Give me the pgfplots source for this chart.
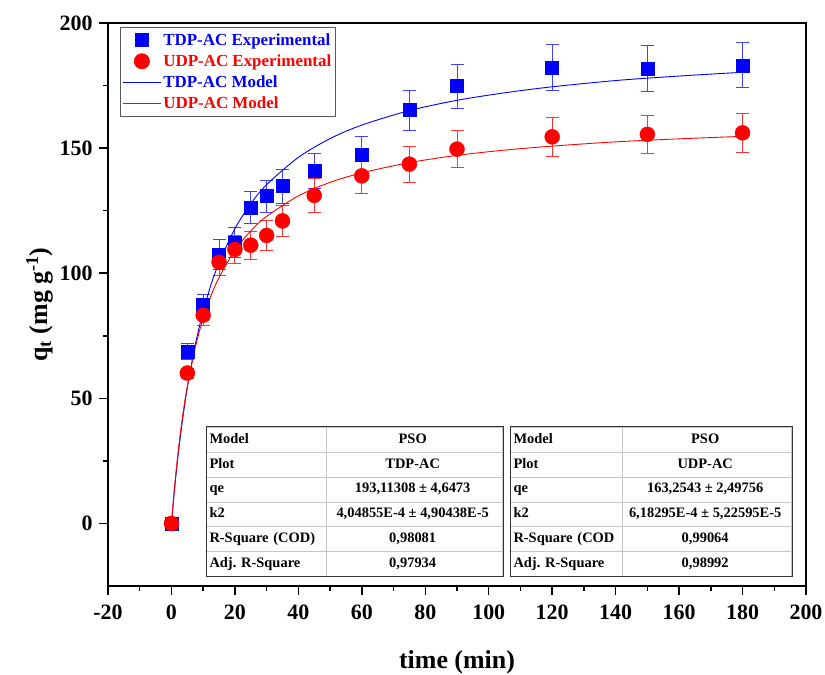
\documentclass[border=0pt]{standalone}
\usepackage{pgfplots}
\pgfplotsset{compat=1.18}
\usepackage{fontspec}
\setmainfont{Liberation Serif}
\usetikzlibrary{matrix}

% tables of the fit results
\tikzset{
  fitcell/.style={draw=gray!45, line width=0.6bp, inner ysep=0pt,
    minimum height=24.8bp, text height=10bp, text depth=3bp,
    font=\bfseries\fontsize{14.5}{15}\selectfont},
  fittable/.style={matrix of nodes, ampersand replacement=\&,
    anchor=north west, fill=white, inner sep=0pt,
    row sep=-0.6bp, column sep=-0.6bp, nodes={fitcell}}
}
\pgfplotsset{
  linelegend/.style={legend image code/.code={\draw[##1] (0bp,0bp) -- (38bp,0bp);}},
  marklegend/.style={legend image code/.code={%
    \path (0bp,0bp) (38bp,0bp);
    \path[##1] plot[only marks] coordinates {(19bp,0bp)};}}
}

\begin{document}
\begin{tikzpicture}
\begin{axis}[
  scale only axis, width=698bp, height=563bp,
  xmin=-20, xmax=200, ymin=-25, ymax=200,
  xtick={-20,0,...,200}, ytick={0,50,...,200},
  minor x tick num=1, minor y tick num=1,
  xtick pos=bottom, ytick pos=left, tick align=outside,
  major tick length=9bp, minor tick length=5bp,
  major tick style={line width=1.5bp, black},
  minor tick style={line width=1.5bp, black},
  axis line style={line width=1.8bp},
  ticklabel style={font=\bfseries\fontsize{22}{22}\selectfont},
  /pgf/number format/assume math mode=true,
  xticklabel style={yshift=-6bp},
  yticklabel style={xshift=-3bp},
  xlabel={time (min)},
  ylabel={q\textsubscript{t} (mg g\textsuperscript{-1})},
  label style={font=\bfseries\fontsize{26}{26}\selectfont},
  xlabel style={yshift=-24bp},
  legend style={at={(0.0172,0.9929)}, anchor=north west,
    draw=gray!70!black, line width=0.9bp, inner xsep=2bp, inner ysep=4bp,
    font=\bfseries\fontsize{17}{17}\selectfont, row sep=4bp},
  legend cell align=left,
]
% TDP-AC experimental
\addplot[only marks, mark=square*, mark size=6.5bp, blue, marklegend,
  error bars/.cd, y dir=both, y explicit,
  error bar style={blue!75, line width=1bp},
  error mark options={rotate=90, mark size=6.5bp, blue!75, line width=1bp}]
  coordinates {
  (0,0) +- (0,0)
  (5,68.8) +- (0,3.3)
  (10,87.5) +- (0,4)
  (15,107.5) +- (0,6)
  (20,112.3) +- (0,5.9)
  (25,126.3) +- (0,6.3)
  (30,130.8) +- (0,6.4)
  (35,134.8) +- (0,6.8)
  (45,140.8) +- (0,6.9)
  (60,147.5) +- (0,7.3)
  (75,165.2) +- (0,8)
  (90,174.8) +- (0,8.8)
  (120,182.3) +- (0,9.1)
  (150,181.9) +- (0,9.3)
  (180,183.1) +- (0,9)
  };
\addlegendentry{\textcolor{blue}{TDP-AC Experimental}}
% UDP-AC experimental
\addplot[only marks, mark=*, mark size=7.5bp, red, marklegend,
  error bars/.cd, y dir=both, y explicit,
  error bar style={red!80, line width=1bp},
  error mark options={rotate=90, mark size=6.5bp, red!80, line width=1bp}]
  coordinates {
  (0,0) +- (0,0)
  (5,60.1) +- (0,2)
  (10,83.2) +- (0,4)
  (15,104.4) +- (0,5.5)
  (20,109.5) +- (0,5.6)
  (25,111.2) +- (0,5.6)
  (30,115.1) +- (0,5.9)
  (35,120.9) +- (0,6.1)
  (45,131.1) +- (0,6.7)
  (60,138.9) +- (0,7)
  (75,143.6) +- (0,7.2)
  (90,149.6) +- (0,7.3)
  (120,154.5) +- (0,7.7)
  (150,155.5) +- (0,7.6)
  (180,156.1) +- (0,7.8)
  };
\addlegendentry{\textcolor{red}{UDP-AC Experimental}}
% TDP-AC model curve
\addplot[blue, line width=0.9bp, smooth, no marks, linelegend]
  coordinates {
  (0,0) (1,14.0) (2,26.1) (3,36.7) (4,46.0) (5,54.3) (7.5,71.4)
  (10,84.7) (12.5,95.5) (15,104.2) (20,117.8) (25,127.8) (30,135.4)
  (40,146.3) (50,153.8) (60,159.2) (75,165.0) (90,169.1) (105,172.1)
  (120,174.5) (140,177.0) (160,178.8) (180,180.3)
  };
\addlegendentry{\textcolor{blue}{TDP-AC Model}}
% UDP-AC model curve
\addplot[red, line width=0.9bp, smooth, no marks, linelegend]
  coordinates {
  (0,0) (1,15.0) (2,27.4) (3,38.0) (4,47.0) (5,54.8) (7.5,70.3)
  (10,82.0) (12.5,91.1) (15,98.3) (20,109.2) (25,116.9) (30,122.7)
  (40,130.9) (50,136.3) (60,140.1) (75,144.2) (90,147.1) (105,149.2)
  (120,150.8) (140,152.5) (160,153.7) (180,154.7)
  };
\addlegendentry{\textcolor{red}{UDP-AC Model}}
\end{axis}

\matrix[fittable,
  column 1/.style={nodes={text width=114bp, inner xsep=3bp, align=left}},
  column 2/.style={nodes={minimum width=176bp, align=center}}]
  (t1) at (98bp,159bp) {
  Model \& PSO \\
  Plot \& TDP-AC \\
  qe \& 193,11308 ± 4,6473 \\
  k2 \& 4,04855E-4 ± 4,90438E-5 \\
  R-Square (COD) \& 0,98081 \\
  Adj.\ R-Square \& 0,97934 \\
  };
\draw[black!80, line width=1bp] (t1.north west) rectangle (t1.south east);

\matrix[fittable,
  column 1/.style={nodes={text width=106bp, inner xsep=3bp, align=left}},
  column 2/.style={nodes={minimum width=169bp, align=center}}]
  (t2) at (402bp,159bp) {
  Model \& PSO \\
  Plot \& UDP-AC \\
  qe \& 163,2543 ± 2,49756 \\
  k2 \& 6,18295E-4 ± 5,22595E-5 \\
  R-Square (COD \& 0,99064 \\
  Adj.\ R-Square \& 0,98992 \\
  };
\draw[black!80, line width=1bp] (t2.north west) rectangle (t2.south east);

\pgfresetboundingbox
\path[use as bounding box] (-108bp,-89bp) rectangle (717bp,586bp);
\end{tikzpicture}
\end{document}
